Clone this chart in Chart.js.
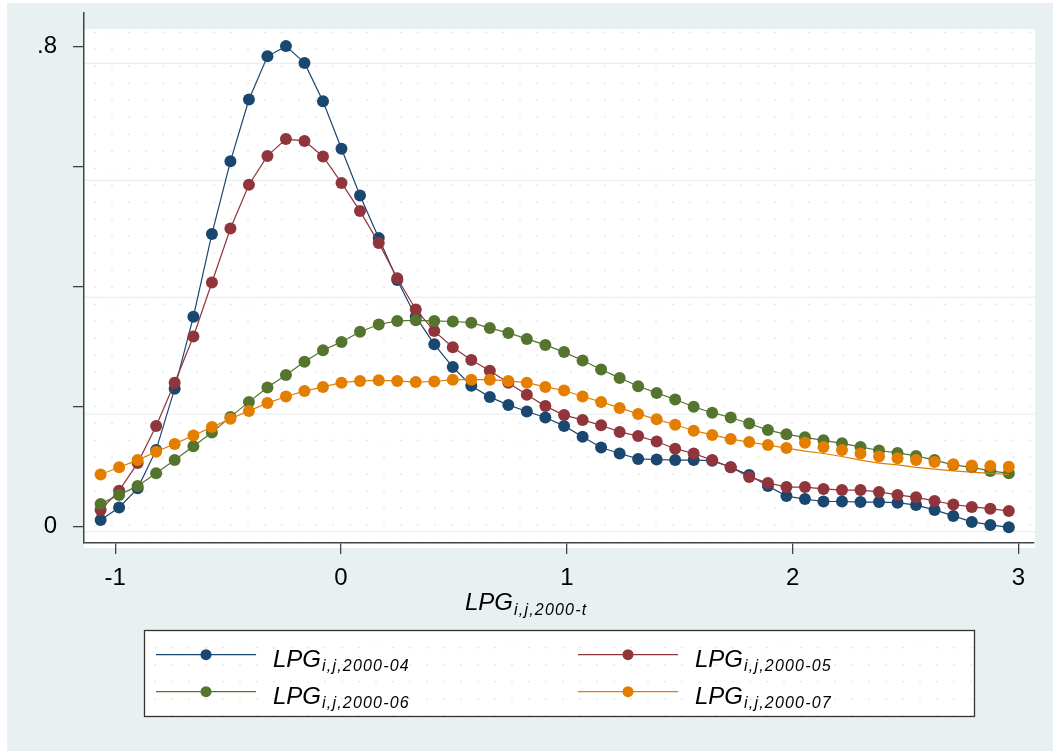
<!DOCTYPE html>
<html>
<head>
<meta charset="utf-8">
<title>LPG kernel densities</title>
<script src="https://cdn.jsdelivr.net/npm/chart.js@4.4.1/dist/chart.umd.min.js"></script>
<style>
    html, body { margin: 0; padding: 0; background: #ffffff; }
    #wrap { width: 1053px; height: 751px; }
</style>
</head>
<body>
<div id="wrap"><canvas id="lpgChart" width="1053" height="751"></canvas></div>
<script>
// evaluation points of the density estimates
const xGrid = [
    -1.065, -0.983, -0.901, -0.819, -0.737, -0.654, -0.572, -0.490, -0.408, -0.326,
    -0.244, -0.162, -0.080, 0.002, 0.084, 0.167, 0.249, 0.331, 0.413, 0.495,
    0.577, 0.659, 0.741, 0.823, 0.905, 0.988, 1.070, 1.152, 1.234, 1.316,
    1.398, 1.480, 1.562, 1.644, 1.726, 1.808, 1.891, 1.973, 2.055, 2.137,
    2.219, 2.301, 2.383, 2.465, 2.547, 2.629, 2.712, 2.794, 2.876, 2.958
];

const lpg04 = [
    0.011, 0.032, 0.064, 0.128, 0.230, 0.350, 0.488, 0.609, 0.712, 0.784,
    0.801, 0.773, 0.709, 0.630, 0.552, 0.481, 0.411, 0.350, 0.304, 0.266,
    0.235, 0.216, 0.203, 0.192, 0.182, 0.168, 0.150, 0.132, 0.122, 0.113,
    0.112, 0.111, 0.111, 0.110, 0.099, 0.086, 0.068, 0.051, 0.046, 0.042,
    0.042, 0.041, 0.041, 0.040, 0.036, 0.028, 0.018, 0.008, 0.003, -0.001
];

const lpg05 = [
    0.028, 0.060, 0.106, 0.168, 0.240, 0.317, 0.407, 0.497, 0.570, 0.618,
    0.646, 0.643, 0.617, 0.573, 0.526, 0.473, 0.414, 0.362, 0.326, 0.299,
    0.278, 0.260, 0.240, 0.220, 0.201, 0.186, 0.178, 0.169, 0.158, 0.151,
    0.142, 0.130, 0.122, 0.111, 0.099, 0.083, 0.073, 0.066, 0.066, 0.063,
    0.061, 0.061, 0.058, 0.053, 0.049, 0.043, 0.037, 0.033, 0.030, 0.026
];

const lpg06 = [
    0.038, 0.053, 0.068, 0.089, 0.111, 0.134, 0.157, 0.183, 0.208, 0.232,
    0.253, 0.275, 0.294, 0.308, 0.325, 0.337, 0.343, 0.344, 0.343, 0.342,
    0.340, 0.331, 0.323, 0.313, 0.303, 0.291, 0.277, 0.262, 0.248, 0.234,
    0.223, 0.212, 0.200, 0.190, 0.182, 0.172, 0.161, 0.154, 0.149, 0.144,
    0.139, 0.133, 0.127, 0.123, 0.118, 0.111, 0.103, 0.099, 0.093, 0.089
];

// 2000-07: the connecting line, and the markers of the tail which sit above it
const lpg07 = [
    0.087, 0.099, 0.111, 0.125, 0.138, 0.152, 0.166, 0.180, 0.193, 0.206,
    0.217, 0.226, 0.233, 0.240, 0.243, 0.244, 0.243, 0.241, 0.242, 0.245,
    0.245, 0.245, 0.243, 0.240, 0.233, 0.227, 0.217, 0.208, 0.198, 0.188,
    0.179, 0.170, 0.160, 0.153, 0.146, 0.141, 0.136, 0.131, 0.126, 0.122,
    0.117, 0.111, 0.106, 0.103, 0.099, 0.096, 0.093, 0.091, 0.089, 0.087
];
const lpg07TailMarks = [0.140, 0.133, 0.128, 0.122, 0.117, 0.114, 0.111, 0.108, 0.104, 0.102, 0.101, 0.100];

const xTicks = [-1, 0, 1, 2, 3];
const xTickLabels = ['-1', '0', '1', '2', '3'];
const yTicks = [0, 0.2, 0.4, 0.6, 0.8];
const yTickLabels = ['0', '', '', '', '.8'];
const seriesSubs = ['i,j,2000-04', 'i,j,2000-05', 'i,j,2000-06', 'i,j,2000-07'];
const xTitleSub = 'i,j,2000-t';

const colors = ['#1a476f', '#90353b', '#55752f', '#e37e00'];
const FONT = '"Liberation Sans", Arial, sans-serif';
const tailStart = xGrid.length - lpg07TailMarks.length;

function pts(values, xs) {
    return values.map((v, i) => ({ x: xs[i], y: v }));
}

function series(values, color, order) {
    return {
        data: pts(values, xGrid),
        borderColor: color,
        backgroundColor: color,
        pointBackgroundColor: color,
        borderWidth: 1.2,
        pointRadius: 6,
        pointBorderWidth: 0,
        pointHoverRadius: 6,
        tension: 0,
        order: order
    };
}

function drawDots(ctx, x0, x1, y0, y1, startX, startY) {
    ctx.fillStyle = '#dfe8eb';
    for (let x = startX; x < x1; x += 17) {
        for (let y = startY; y < y1; y += 17) {
            if (x > x0 && y > y0) ctx.fillRect(x - 0.8, y - 0.8, 1.6, 1.6);
        }
    }
}

function drawLpg(ctx, x, y, sub, size, subSize, subDrop) {
    ctx.save();
    ctx.fillStyle = '#000000';
    ctx.textBaseline = 'alphabetic';
    ctx.textAlign = 'left';
    ctx.font = 'italic ' + size + 'px ' + FONT;
    ctx.fillText('LPG', x, y);
    const w = ctx.measureText('LPG').width;
    ctx.font = 'italic ' + subSize + 'px ' + FONT;
    ctx.letterSpacing = '1.2px';
    ctx.fillText(sub, x + w + 1, y + subDrop);
    ctx.restore();
}

const stataLook = {
    id: 'stataLook',
    beforeDraw(chart) {
        const ctx = chart.ctx;
        ctx.save();
        ctx.fillStyle = '#ffffff';
        ctx.fillRect(0, 0, chart.width, chart.height);
        ctx.fillStyle = '#e9f0f2';
        ctx.fillRect(7, 3, chart.width - 7, chart.height - 3);
        // plot region
        ctx.fillStyle = '#ffffff';
        ctx.fillRect(84, 29, 951, 519);
        drawDots(ctx, 84, 1035, 29, 548, 95, 32.3);
        ctx.strokeStyle = '#e3ecee';
        ctx.lineWidth = 1;
        [63.3, 180.3, 297.3, 414, 531.7].forEach(gy => {
            ctx.beginPath();
            ctx.moveTo(85, gy);
            ctx.lineTo(1035, gy);
            ctx.stroke();
        });
        ctx.restore();
    },
    afterDraw(chart) {
        const ctx = chart.ctx;
        // axis title
        drawLpg(ctx, 465, 609.5, xTitleSub, 24, 16, 5);

        // legend
        ctx.save();
        ctx.fillStyle = '#ffffff';
        ctx.fillRect(144.5, 630.5, 830, 86);
        drawDots(ctx, 145, 974, 631, 716, 886 - 17 * 44, 647.7);
        ctx.strokeStyle = '#333333';
        ctx.lineWidth = 1.3;
        ctx.strokeRect(144.5, 630.5, 830, 86);
        ctx.restore();

        const cols = [156, 578];
        const rows = [654.7, 691.7];
        seriesSubs.forEach((sub, k) => {
            const lx = cols[k % 2];
            const ly = rows[Math.floor(k / 2)];
            ctx.save();
            ctx.strokeStyle = colors[k];
            ctx.fillStyle = colors[k];
            ctx.lineWidth = 1.2;
            ctx.beginPath();
            ctx.moveTo(lx, ly);
            ctx.lineTo(lx + 100, ly);
            ctx.stroke();
            ctx.beginPath();
            ctx.arc(lx + 50, ly, 5.5, 0, Math.PI * 2);
            ctx.fill();
            ctx.restore();
            drawLpg(ctx, lx + 117, ly + 12, sub, 24, 16, 4);
        });
    }
};

const lpg07Line = series(lpg07, colors[3], 1);
lpg07Line.pointRadius = ctx => (ctx.dataIndex < tailStart ? 6 : 0);

const lpg07Tail = {
    data: pts(lpg07TailMarks, xGrid.slice(tailStart)),
    showLine: false,
    borderColor: colors[3],
    backgroundColor: colors[3],
    pointBackgroundColor: colors[3],
    pointRadius: 6,
    pointBorderWidth: 0,
    order: 0
};

new Chart(document.getElementById('lpgChart'), {
    type: 'line',
    data: {
        datasets: [
            series(lpg04, colors[0], 4),
            series(lpg05, colors[1], 3),
            series(lpg06, colors[2], 2),
            lpg07Line,
            lpg07Tail
        ]
    },
    options: {
        responsive: false,
        animation: false,
        devicePixelRatio: 1,
        layout: { padding: { left: 0, top: 13, right: 19, bottom: 0 } },
        plugins: {
            legend: { display: false },
            tooltip: { enabled: false }
        },
        scales: {
            x: {
                type: 'linear',
                min: -1.1386,
                max: 3.0695,
                afterFit: scale => {
                    scale.height = 208;
                    scale.paddingLeft = 0;
                    scale.paddingRight = 0;
                },
                afterBuildTicks: scale => { scale.ticks = xTicks.map(v => ({ value: v })); },
                ticks: {
                    color: '#000000',
                    font: { family: FONT, size: 24 },
                    padding: 10,
                    maxRotation: 0,
                    callback: (v) => xTickLabels[xTicks.indexOf(v)]
                },
                grid: {
                    drawOnChartArea: false,
                    drawTicks: true,
                    tickLength: 11,
                    color: '#444444',
                    lineWidth: 1.3
                },
                border: { display: true, color: '#444444', width: 1.5 }
            },
            y: {
                type: 'linear',
                min: -0.02717,
                max: 0.8562,
                afterFit: scale => {
                    scale.width = 84;
                    scale.paddingTop = 0;
                    scale.paddingBottom = 0;
                },
                afterBuildTicks: scale => { scale.ticks = yTicks.map(v => ({ value: v })); },
                ticks: {
                    color: '#000000',
                    font: { family: FONT, size: 24 },
                    padding: 16,
                    callback: (v) => yTickLabels[yTicks.indexOf(v)]
                },
                grid: {
                    drawOnChartArea: false,
                    drawTicks: true,
                    tickLength: 11,
                    color: '#444444',
                    lineWidth: 1.3
                },
                border: { display: true, color: '#444444', width: 1.5 }
            }
        }
    },
    plugins: [stataLook]
});
</script>
</body>
</html>
